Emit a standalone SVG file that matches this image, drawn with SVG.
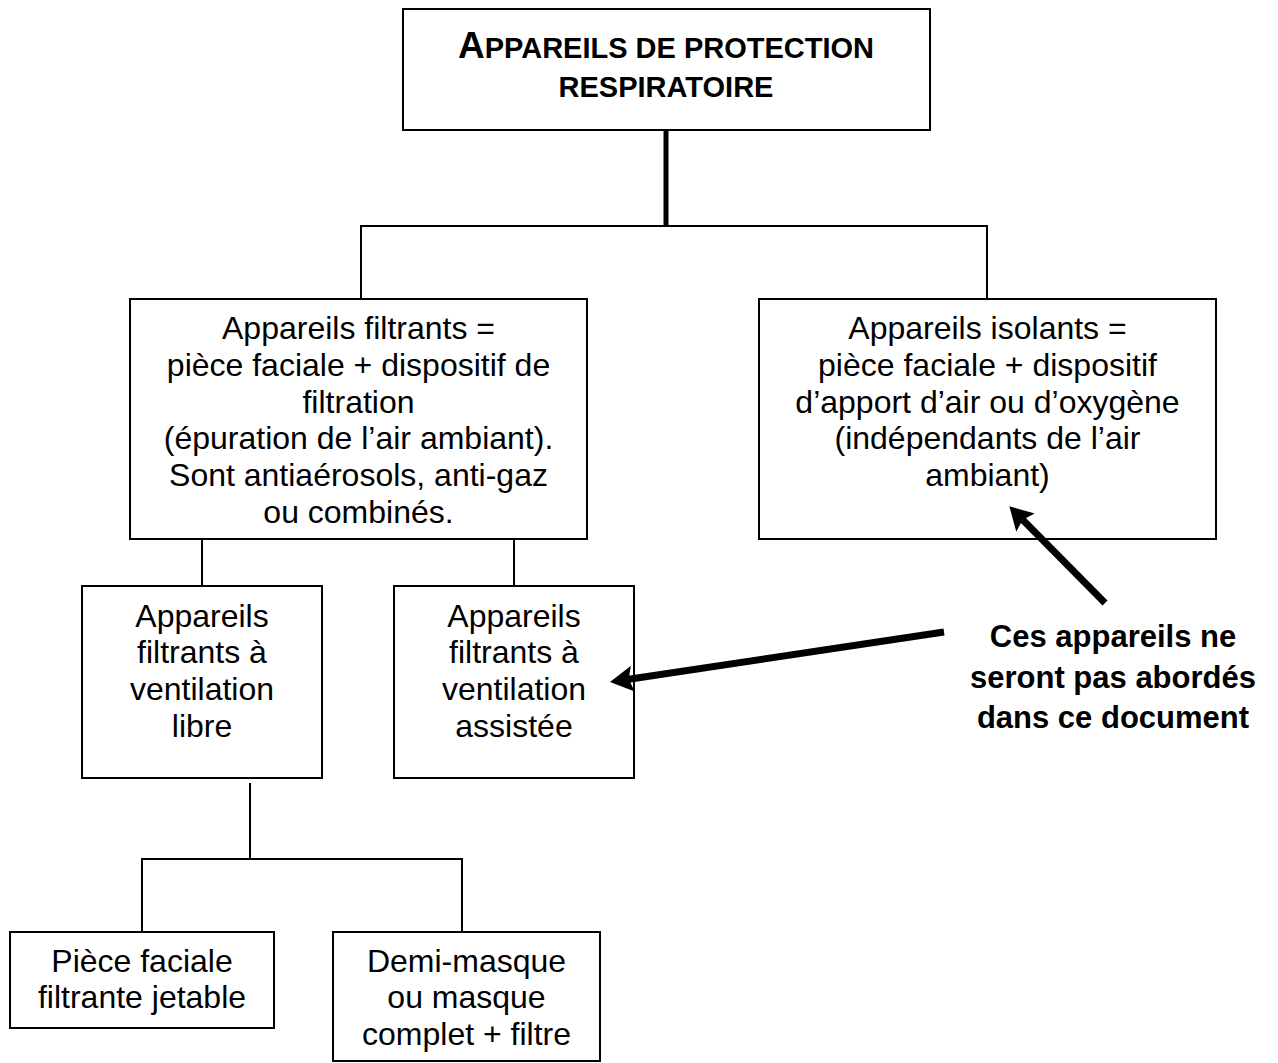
<svg xmlns="http://www.w3.org/2000/svg" width="1278" height="1063" viewBox="0 0 1278 1063">
<style>
.box{fill:#fff;stroke:#000;stroke-width:2}
.ln{stroke:#000;stroke-width:2;fill:none}
.t{font-family:"Liberation Sans",Arial,sans-serif;font-size:32px;fill:#000;text-anchor:middle}
.b{font-family:"Liberation Sans",Arial,sans-serif;font-weight:bold;fill:#000;text-anchor:middle}
.arr{stroke:#000;stroke-width:7;fill:none;marker-end:url(#ah)}
</style>
<defs>
<marker id="ah" markerUnits="userSpaceOnUse" markerWidth="24" markerHeight="26" viewBox="0 0 24 26" refX="4" refY="13" orient="auto">
<path d="M0,0 L23,13 L0,26 L4,13 z" fill="#000"/>
</marker>
</defs>
<rect width="1278" height="1063" fill="#fff"/>
<g id="root">
<rect class="box" x="403" y="9" width="527" height="121"/>
<text class="b" x="666" y="58"><tspan font-size="37">A</tspan><tspan font-size="29">PPAREILS DE PROTECTION</tspan></text>
<text class="b" x="666" y="97" font-size="29">RESPIRATOIRE</text>
</g>
<g id="filtrants">
<rect class="box" x="130" y="299" width="457" height="240"/>
<text class="t" x="358.5" y="339">Appareils filtrants =</text>
<text class="t" x="358.5" y="376">pièce faciale + dispositif de</text>
<text class="t" x="358.5" y="413">filtration</text>
<text class="t" x="358.5" y="449">(épuration de l’air ambiant).</text>
<text class="t" x="358.5" y="486">Sont antiaérosols, anti-gaz</text>
<text class="t" x="358.5" y="523">ou combinés.</text>
</g>
<g id="isolants">
<rect class="box" x="759" y="299" width="457" height="240"/>
<text class="t" x="987.5" y="339">Appareils isolants =</text>
<text class="t" x="987.5" y="376">pièce faciale + dispositif</text>
<text class="t" x="987.5" y="413">d’apport d’air ou d’oxygène</text>
<text class="t" x="987.5" y="449">(indépendants de l’air</text>
<text class="t" x="987.5" y="486">ambiant)</text>
</g>
<g id="libre">
<rect class="box" x="82" y="586" width="240" height="192"/>
<text class="t" x="202" y="627">Appareils</text>
<text class="t" x="202" y="663">filtrants à</text>
<text class="t" x="202" y="700">ventilation</text>
<text class="t" x="202" y="737">libre</text>
</g>
<g id="assistee">
<rect class="box" x="394" y="586" width="240" height="192"/>
<text class="t" x="514" y="627">Appareils</text>
<text class="t" x="514" y="663">filtrants à</text>
<text class="t" x="514" y="700">ventilation</text>
<text class="t" x="514" y="737">assistée</text>
</g>
<g id="piece">
<rect class="box" x="10" y="932" width="264" height="96"/>
<text class="t" x="142" y="972">Pièce faciale</text>
<text class="t" x="142" y="1008">filtrante jetable</text>
</g>
<g id="demi">
<rect class="box" x="333" y="932" width="267" height="129"/>
<text class="t" x="466.5" y="972">Demi-masque</text>
<text class="t" x="466.5" y="1008">ou masque</text>
<text class="t" x="466.5" y="1045">complet + filtre</text>
</g>
<g id="note">
<text class="b" x="1113" y="647" font-size="31">Ces appareils ne</text>
<text class="b" x="1113" y="688" font-size="31">seront pas abordés</text>
<text class="b" x="1113" y="728" font-size="31">dans ce document</text>
</g>
<g id="connectors">
<line class="ln" x1="666" y1="130" x2="666" y2="226" style="stroke-width:5"/>
<polyline class="ln" points="361,299 361,226 987,226 987,299"/>
<line class="ln" x1="202" y1="539" x2="202" y2="586"/>
<line class="ln" x1="514" y1="539" x2="514" y2="586"/>
<line class="ln" x1="250" y1="783" x2="250" y2="859"/>
<polyline class="ln" points="142,932 142,859 462,859 462,932"/>
<line class="arr" x1="1105" y1="603" x2="1022.7" y2="519.8"/>
<line class="arr" x1="944" y1="632" x2="628.8" y2="679.3"/>
</g>
</svg>
